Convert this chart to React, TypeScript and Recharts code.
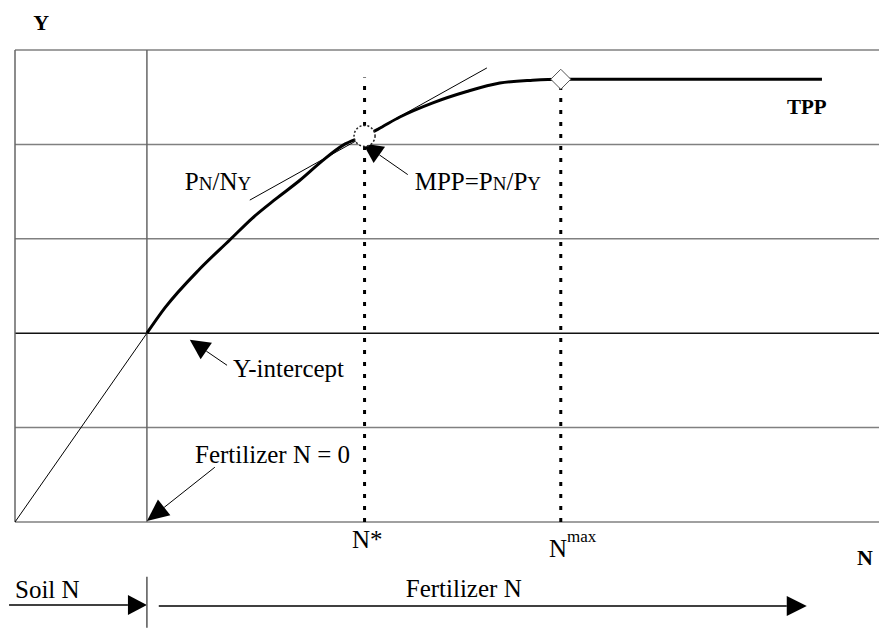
import React from 'react';
import { ComposedChart, Line, XAxis, YAxis, ReferenceLine, ReferenceDot } from 'recharts';

// ---- data (N in arbitrary units, fertilizer N = 0 at n = 0; Y in grid units) ----
const nDomain = [-40, 222];
const yDomain = [0, 5];
const gridY = [0, 1, 2, 3, 4, 5];
const gridN = [-40, 0];

const soilN = [-40, 0];
const soilY = [0, 2];

const tppN = [0, 5.5, 16, 25.2, 32, 39, 46.4, 53, 59.4, 66, 70, 76.7, 86.7, 97, 107, 117, 125.5, 204.7];
const tppY = [2.0, 2.27, 2.68, 2.99, 3.22, 3.42, 3.62, 3.82, 3.99, 4.09, 4.16, 4.29, 4.44, 4.56, 4.65, 4.68, 4.69, 4.69];

const tangentN = [31.2, 103.1];
const tangentY = [3.41, 4.81];

const nStar = 66;
const yStar = 4.09;
const nMax = 125.5;
const yMax = 4.69;
const dropTop = 4.71;

const soilData = soilN.map((n, i) => ({ n, y: soilY[i] }));
const tppData = tppN.map((n, i) => ({ n, y: tppY[i] }));
const tangentData = tangentN.map((n, i) => ({ n, y: tangentY[i] }));

const FONT = 'Liberation Serif, Times New Roman, serif';

const arrowShape = (head: number, hw: number, sw: number, color = '#000') => (p: any) => {
  const { x1, y1, x2, y2 } = p;
  const dx = x2 - x1;
  const dy = y2 - y1;
  const len = Math.hypot(dx, dy) || 1;
  const ux = dx / len;
  const uy = dy / len;
  const bx = x2 - ux * head;
  const by = y2 - uy * head;
  const px = -uy * hw;
  const py = ux * hw;
  return (
    <g>
      <line x1={x1} y1={y1} x2={bx} y2={by} stroke={color} strokeWidth={sw} />
      <polygon points={`${x2},${y2} ${bx + px},${by + py} ${bx - px},${by - py}`} fill="#000" />
    </g>
  );
};

const textShape = (content: React.ReactNode, size = 25, bold = false) => (p: any) => (
  <text
    x={p.cx}
    y={p.cy}
    fontFamily={FONT}
    fontSize={size}
    fontWeight={bold ? 'bold' : 'normal'}
    fill="#000"
    style={{ fontFamily: FONT }}
  >
    {content}
  </text>
);

const diamondShape = (p: any) => {
  const { cx, cy } = p;
  const h = 10;
  return (
    <polygon
      points={`${cx},${cy - h} ${cx + h},${cy} ${cx},${cy + h} ${cx - h},${cy}`}
      fill="#fff"
      stroke="#555"
      strokeWidth={1}
    />
  );
};

const circleShape = (p: any) => (
  <circle cx={p.cx} cy={p.cy} r={10.5} fill="#fff" stroke="#222" strokeWidth={1.5} strokeDasharray="2 2" />
);

const sub = (s: string) => <tspan fontSize={19}>{s}</tspan>;

export default function App() {
  return (
    <div style={{ position: 'absolute', left: 0, top: 0, background: '#fff' }}>
      <ComposedChart width={879} height={628} margin={{ top: 50, right: 0, bottom: 106, left: 15 }}>
        <XAxis dataKey="n" type="number" domain={nDomain} hide allowDataOverflow />
        <YAxis dataKey="y" type="number" domain={yDomain} hide allowDataOverflow />

        {gridY.map((g) => (
          <ReferenceLine
            key={'gy' + g}
            y={g}
            stroke={g === 2 ? '#111' : '#808080'}
            strokeWidth={1.5}
            ifOverflow="visible"
          />
        ))}
        {gridN.map((g) => (
          <ReferenceLine key={'gn' + g} x={g} stroke="#666" strokeWidth={1.5} ifOverflow="visible" />
        ))}

        <ReferenceLine
          segment={[{ x: nStar, y: 0 }, { x: nStar, y: dropTop }]}
          stroke="#000"
          strokeWidth={3}
          strokeDasharray="4 8"
          ifOverflow="visible"
        />
        <ReferenceLine
          segment={[{ x: nMax, y: 0 }, { x: nMax, y: dropTop }]}
          stroke="#000"
          strokeWidth={3}
          strokeDasharray="4 8"
          ifOverflow="visible"
        />

        <Line data={soilData} dataKey="y" type="linear" stroke="#000" strokeWidth={1} dot={false} activeDot={false} isAnimationActive={false} />
        <Line data={tangentData} dataKey="y" type="linear" stroke="#000" strokeWidth={1} dot={false} activeDot={false} isAnimationActive={false} />
        <Line data={tppData} dataKey="y" type="monotone" stroke="#000" strokeWidth={3} dot={false} activeDot={false} isAnimationActive={false} />

        <ReferenceDot x={nStar} y={yStar} r={10} ifOverflow="visible" shape={circleShape} />
        <ReferenceDot x={nMax} y={yMax} r={10} ifOverflow="visible" shape={diamondShape} />

        {/* annotation arrows */}
        <ReferenceLine segment={[{ x: 79.1, y: 3.68 }, { x: 65.5, y: 4.01 }]} ifOverflow="visible" shape={arrowShape(20, 10, 1)} />
        <ReferenceLine segment={[{ x: 24.3, y: 1.66 }, { x: 13.0, y: 1.93 }]} ifOverflow="visible" shape={arrowShape(20, 10, 1)} />
        <ReferenceLine segment={[{ x: 20.6, y: 0.58 }, { x: 0, y: 0.01 }]} ifOverflow="visible" shape={arrowShape(22, 10, 1)} />
        <ReferenceLine segment={[{ x: -41.8, y: -0.879 }, { x: 0, y: -0.879 }]} ifOverflow="visible" shape={arrowShape(19, 10, 1.5)} />
        <ReferenceLine segment={[{ x: 3.6, y: -0.89 }, { x: 200.1, y: -0.89 }]} ifOverflow="visible" shape={arrowShape(20, 10, 1.5)} />
        <ReferenceLine segment={[{ x: 0, y: -0.58 }, { x: 0, y: -1.12 }]} stroke="#555" strokeWidth={1.5} ifOverflow="visible" />

        {/* labels */}
        <ReferenceDot x={-34.5} y={5.21} r={0} ifOverflow="visible" shape={textShape('Y', 22, true)} />
        <ReferenceDot x={194.1} y={4.32} r={0} ifOverflow="visible" shape={textShape('TPP', 21, true)} />
        <ReferenceDot x={215.3} y={-0.455} r={0} ifOverflow="visible" shape={textShape('N', 22, true)} />
        <ReferenceDot x={11.5} y={3.52} r={0} ifOverflow="visible" shape={textShape(<>P{sub('N')}/N{sub('Y')}</>)} />
        <ReferenceDot x={81.2} y={3.52} r={0} ifOverflow="visible" shape={textShape(<>MPP=P{sub('N')}/P{sub('Y')}</>)} />
        <ReferenceDot x={26.1} y={1.536} r={0} ifOverflow="visible" shape={textShape('Y-intercept')} />
        <ReferenceDot x={14.6} y={0.625} r={0} ifOverflow="visible" shape={textShape('Fertilizer N = 0')} />
        <ReferenceDot x={62.2} y={-0.275} r={0} ifOverflow="visible" shape={textShape('N*')} />
        <ReferenceDot
          x={121.9}
          y={-0.37}
          r={0}
          ifOverflow="visible"
          shape={textShape(<>N<tspan dy={-15} fontSize={17}>max</tspan></>)}
        />
        <ReferenceDot x={-40} y={-0.805} r={0} ifOverflow="visible" shape={textShape('Soil N')} />
        <ReferenceDot x={78.5} y={-0.795} r={0} ifOverflow="visible" shape={textShape('Fertilizer N')} />
      </ComposedChart>
    </div>
  );
}
